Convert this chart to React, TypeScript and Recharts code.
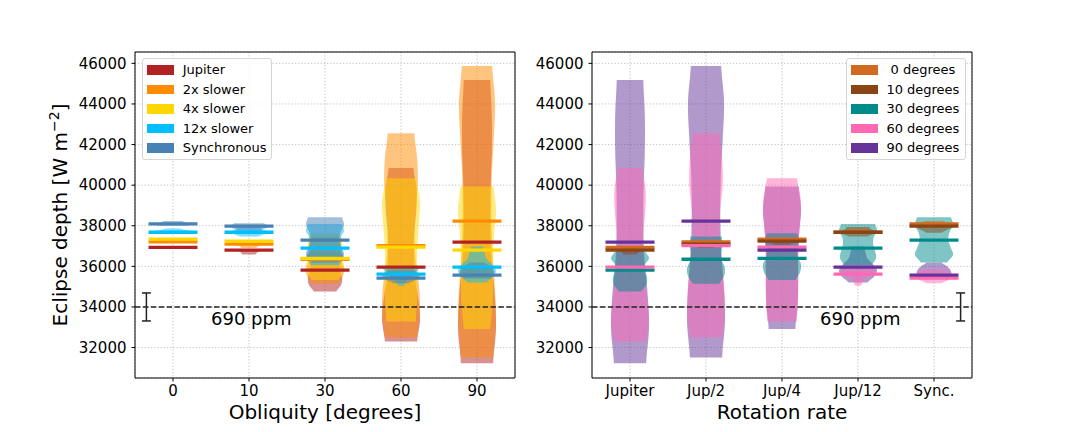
import React from "react";
import {
  ComposedChart,
  Bar,
  Scatter,
  XAxis,
  YAxis,
  CartesianGrid,
  ReferenceLine,
  ReferenceArea,
  ReferenceDot,
  ErrorBar,
  Legend,
} from "recharts";

const obliquityTicks = ["0", "10", "30", "60", "90"];
const rotationTicks = ["Jupiter", "Jup/2", "Jup/4", "Jup/12", "Sync."];
const rotationNames = ["Jupiter", "2x slower", "4x slower", "12x slower", "Synchronous"];
const obliquityNames = ["\u00a00 degrees", "10 degrees", "30 degrees", "60 degrees", "90 degrees"];
const rotationColors = ["#b22222", "#ff8c00", "#ffd700", "#00bfff", "#4682b4"];
const obliquityColors = ["#d2691e", "#8b4513", "#008b8b", "#ff69b4", "#663399"];

const yTicks = [32000, 34000, 36000, 38000, 40000, 42000, 44000, 46000];
const yDomain: [number, number] = [30500, 46560];

// median eclipse depth per rotation rate, indexed by obliquity (0, 10, 30, 60, 90)
const medianJupiter = [36940, 36800, 35810, 35960, 37190];
const median2x = [37210, 37100, 36350, 37020, 38230];
const median4x = [37340, 37240, 36390, 36950, 36800];
const median12x = [37680, 37680, 36900, 35620, 35960];
const medianSync = [38090, 37980, 37290, 35420, 35570];

// violin extent [min, max], indexed by obliquity
const rangeJupiter: [number, number][] = [[36880, 37000], [36580, 36860], [34760, 36730], [32300, 40840], [31230, 45180]];
const range2x: [number, number][] = [[37150, 37280], [36900, 37150], [35140, 37470], [32490, 42560], [31510, 45870]];
const range4x: [number, number][] = [[37280, 37400], [37060, 37300], [35330, 37630], [33280, 40340], [32910, 39930]];
const range12x: [number, number][] = [[37600, 37870], [37470, 37940], [36070, 38090], [35040, 35990], [35200, 36980]];
const rangeSync: [number, number][] = [[38000, 38230], [37650, 38120], [36190, 38420], [35170, 35830], [35400, 36190]];

// violin density, bottom to top, relative to the widest point
const shapeJupiter = [
  [0.3, 0.7, 1, 0.7, 0.3],
  [0.35, 0.4, 0.5, 0.75, 1],
  [0.6, 0.85, 0.9, 0.8, 0.78, 1.0, 0.8],
  [0.85, 1.0, 0.9, 0.72, 0.68, 0.7, 0.8, 0.82, 0.65],
  [0.85, 1.0, 0.92, 0.75, 0.7, 0.72, 0.78, 0.78, 0.7],
];
const shape2x = [
  [0.3, 0.7, 1, 0.7, 0.3],
  [0.4, 0.45, 0.6, 1.0, 0.6],
  [0.7, 0.95, 1.0, 0.82, 0.8, 0.88, 0.82],
  [0.85, 1.0, 0.95, 0.78, 0.7, 0.75, 0.88, 0.85, 0.7],
  [0.85, 1.0, 0.93, 0.8, 0.75, 0.78, 0.88, 0.95, 0.8],
];
const shape4x = [
  [0.3, 0.7, 1, 0.7, 0.3],
  [0.4, 0.5, 0.8, 1.0, 0.7],
  [0.72, 0.95, 1.0, 0.82, 0.8, 0.9, 0.8],
  [0.78, 0.85, 0.85, 0.85, 0.93, 1.0, 0.8],
  [0.7, 0.82, 0.85, 0.85, 0.9, 1.0, 0.88],
];
const shape12x = [
  [0.4, 0.8, 1, 0.6, 0.35],
  [0.5, 0.8, 1.0, 0.7, 0.6],
  [0.75, 0.95, 0.9, 0.8, 0.82, 1.0, 0.9],
  [0.15, 0.3, 0.55, 0.85, 1.0],
  [0.5, 0.85, 1.0, 0.8, 0.5, 0.4, 0.33],
];
const shapeSync = [
  [0.8, 1, 0.7, 0.5],
  [0.4, 0.7, 1.0, 0.8],
  [0.7, 1.0, 0.88, 0.75, 0.82, 1.0, 0.9],
  [0.4, 0.8, 1.0, 0.9, 0.7],
  [0.7, 0.9, 0.88, 0.7, 0.4],
];

const uncertainty = 690;
const uncertaintyLevel = 34000;
const uncertaintyText = "690 ppm";

const medians = [medianJupiter, median2x, median4x, median12x, medianSync];
const ranges = [rangeJupiter, range2x, range4x, range12x, rangeSync];
const shapes = [shapeJupiter, shape2x, shape4x, shape12x, shapeSync];

const FONT = "DejaVu Sans";

// catmull-rom resampling so the violin outline is smooth
function smooth(p: number[], steps: number) {
  const out: number[] = [];
  for (let i = 0; i < p.length - 1; i++) {
    const p0 = p[Math.max(i - 1, 0)];
    const p1 = p[i];
    const p2 = p[i + 1];
    const p3 = p[Math.min(i + 2, p.length - 1)];
    for (let k = 0; k < steps; k++) {
      const t = k / steps;
      const v =
        0.5 *
        (2 * p1 +
          (-p0 + p2) * t +
          (2 * p0 - 5 * p1 + 4 * p2 - p3) * t * t +
          (-p0 + 3 * p1 - 3 * p2 + p3) * t * t * t);
      out.push(Math.max(0.05, Math.min(1, v)));
    }
  }
  out.push(p[p.length - 1]);
  return out;
}

function Violin(props: any) {
  const { x, y, width, height, fill, profile } = props;
  if (!profile || height == null || isNaN(y)) return null;
  const cx = x + width / 2;
  const half = width / 2;
  const dense = smooth(profile, 10);
  const n = dense.length;
  const yy = (k: number) => y + height - (height * k) / (n - 1);
  const right = dense.map((w, k) => `${cx + w * half},${yy(k)}`);
  const left = dense.map((w, k) => `${cx - w * half},${yy(k)}`).reverse();
  return <polygon points={[...right, ...left].join(" ")} fill={fill} fillOpacity={0.5} stroke="none" />;
}

function LegendBox({ names, colors, width }: { names: string[]; colors: string[]; width: number }) {
  return (
    <div
      style={{
        boxSizing: "border-box",
        width,
        height: 102,
        border: "1px solid #d5d5d5",
        borderRadius: 3,
        background: "rgba(255,255,255,0.8)",
        padding: "1px 0 0 4px",
        fontFamily: FONT,
        fontSize: 13,
        color: "#000",
      }}
    >
      {names.map((n, i) => (
        <div key={n} style={{ display: "flex", alignItems: "center", height: 19.5 }}>
          <span style={{ display: "inline-block", width: 27, height: 9.5, background: colors[i], marginRight: 8.7 }} />
          <span style={{ whiteSpace: "pre" }}>{n}</span>
        </div>
      ))}
    </div>
  );
}

type Cell = { range: [number, number]; shape: number[]; median: number };

type PanelProps = {
  ticks: string[];
  names: string[];
  colors: string[];
  cell: (s: number, c: number) => Cell;
  xTitle: string;
  yTitle?: boolean;
  reverse?: boolean;
  left: number;
  width: number;
  yAxisWidth: number;
  marginRight: number;
  legendLeft: number;
  legendWidth: number;
  markerX: number;
  textX: number;
};

const Panel: React.FC<PanelProps> = (p) => {
  const rows = p.ticks.map((t, c) => {
    const row: any = { name: t };
    p.names.forEach((_, s) => {
      const v = p.cell(s, c);
      row[`v${s}`] = v.range;
      row[`p${s}`] = v.shape;
    });
    return row;
  });
  // order the violins are painted in (they are translucent, so it shows)
  const order = p.names.map((_, s) => s);
  if (p.reverse) order.reverse();

  return (
    <div style={{ position: "absolute", left: p.left, top: 0 }}>
      <ComposedChart
        width={p.width}
        height={432}
        data={rows}
        margin={{ top: 52, right: p.marginRight, bottom: 0, left: 0 }}
      >
        {p.names.map((_, s) => (
          <XAxis key={`ax${s}`} xAxisId={`v${s}`} type="category" dataKey="name" hide />
        ))}
        <XAxis
          type="number"
          dataKey="x"
          domain={[-0.5, 4.5]}
          allowDataOverflow
          ticks={[0, 1, 2, 3, 4]}
          interval={0}
          tickFormatter={(v: number) => p.ticks[v]}
          height={54}
          axisLine={false}
          tickSize={3.5}
          tickMargin={3.5}
          tickLine={{ stroke: "#000" }}
          tick={{ fontSize: 15, fill: "#000" }}
          label={(lp: any) => (
            <text
              x={lp.viewBox.x + lp.viewBox.width / 2}
              y={lp.viewBox.y + 41}
              textAnchor="middle"
              fontSize={20}
              fill="#000"
            >
              {p.xTitle}
            </text>
          )}
        />
        <YAxis
          type="number"
          domain={yDomain}
          allowDataOverflow
          ticks={yTicks}
          interval={0}
          width={p.yAxisWidth}
          axisLine={false}
          tickSize={3.5}
          tickMargin={5}
          tickLine={{ stroke: "#000" }}
          tick={{ fontSize: 15, fill: "#000" }}
          label={
            p.yTitle
              ? (lp: any) => {
                  const cy = lp.viewBox.y + lp.viewBox.height / 2;
                  return (
                    <text
                      x={66.5}
                      y={cy}
                      transform={`rotate(-90, 66.5, ${cy})`}
                      textAnchor="middle"
                      fontSize={20}
                      fill="#000"
                    >
                      Eclipse depth [W m<tspan baselineShift="super" fontSize={14}>−2</tspan>]
                    </text>
                  );
                }
              : undefined
          }
        />

        {order.map((s) => (
          <Bar
            key={`violin${s}`}
            xAxisId={`v${s}`}
            dataKey={`v${s}`}
            barSize={38}
            fill={p.colors[s]}
            isAnimationActive={false}
            shape={(bp: any) => <Violin {...bp} profile={bp.payload[`p${s}`]} />}
          />
        ))}

        <CartesianGrid stroke="#b0b0b0" strokeWidth={0.8} strokeDasharray="1.2 2" />
        <ReferenceLine y={uncertaintyLevel} stroke="#222" strokeWidth={1.5} strokeDasharray="5.5 2.4" />

        {p.names.map((_, s) => (
          <Scatter
            key={`median${s}`}
            data={p.ticks.map((_, c) => ({ x: c, y: p.cell(s, c).median }))}
            dataKey="y"
            isAnimationActive={false}
            shape={(sp: any) => (
              <line x1={sp.cx - 24.5} x2={sp.cx + 24.5} y1={sp.cy} y2={sp.cy} stroke={p.colors[s]} strokeWidth={3.3} />
            )}
          />
        ))}

        <Scatter
          data={[{ x: p.markerX, y: uncertaintyLevel, err: uncertainty }]}
          dataKey="y"
          isAnimationActive={false}
          shape={() => <g />}
        >
          <ErrorBar dataKey="err" direction="y" width={4.5} stroke="#222" strokeWidth={1.5} />
        </Scatter>

        <ReferenceDot
          x={p.textX}
          y={33100}
          r={0}
          shape={(dp: any) => (
            <text x={dp.cx} y={dp.cy} fontSize={18} fill="#000">
              {uncertaintyText}
            </text>
          )}
        />

        <ReferenceArea x1={-0.5} x2={4.5} y1={yDomain[0]} y2={yDomain[1]} fill="none" stroke="#000" strokeWidth={1} />

        <Legend
          layout="vertical"
          align="center"
          verticalAlign="middle"
          wrapperStyle={{ left: p.legendLeft, top: 58, width: p.legendWidth, height: 102 }}
          content={() => <LegendBox names={p.names} colors={p.colors} width={p.legendWidth} />}
        />
      </ComposedChart>
    </div>
  );
};

export default function App() {
  return (
    <div
      style={{
        position: "absolute",
        left: 0,
        top: 0,
        width: 1080,
        height: 432,
        background: "#fff",
        fontFamily: FONT,
      }}
    >
      <Panel
        ticks={obliquityTicks}
        names={rotationNames}
        colors={rotationColors}
        cell={(s, c) => ({ range: ranges[s][c], shape: shapes[s][c], median: medians[s][c] })}
        xTitle="Obliquity [degrees]"
        yTitle
        left={0}
        width={540}
        yAxisWidth={135}
        marginRight={25}
        legendLeft={142}
        legendWidth={130}
        markerX={-0.35}
        textX={0.5}
      />
      <Panel
        ticks={rotationTicks}
        names={obliquityNames}
        colors={obliquityColors}
        cell={(s, c) => ({ range: ranges[c][s], shape: shapes[c][s], median: medians[c][s] })}
        xTitle="Rotation rate"
        reverse
        left={515}
        width={565}
        yAxisWidth={77}
        marginRight={108}
        legendLeft={330.7}
        legendWidth={120}
        markerX={4.35}
        textX={2.5}
      />
    </div>
  );
}
